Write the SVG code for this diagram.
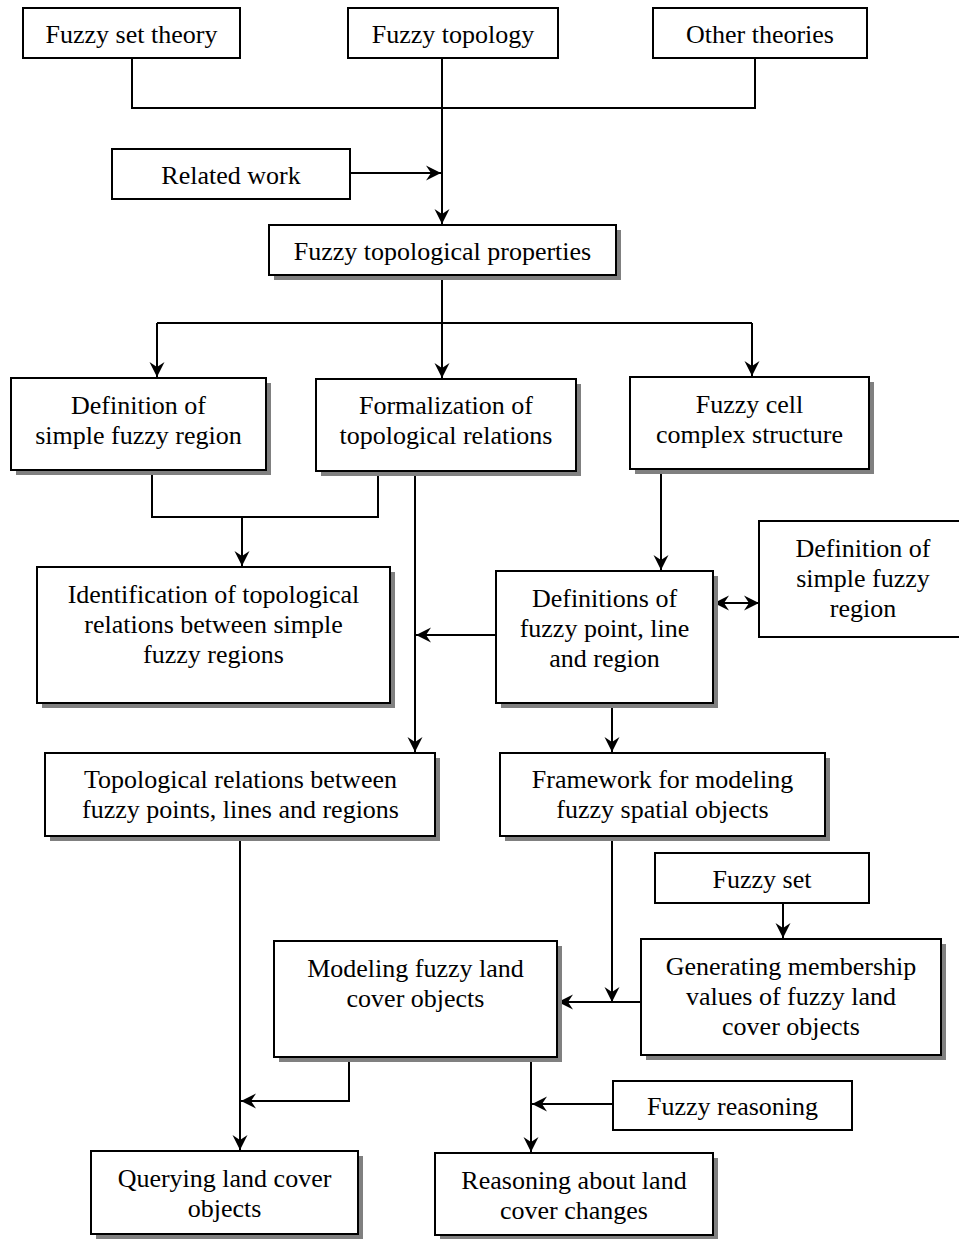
<svg xmlns="http://www.w3.org/2000/svg" width="959" height="1239" viewBox="0 0 959 1239">
  <style>
    .box { fill: #fff; stroke: #000; stroke-width: 2; }
    .shadow { fill: #808080; }
    .label { font-family: "Liberation Serif", "Times New Roman", serif; font-size: 26px; fill: #000; text-anchor: middle; }
    .wire { fill: none; stroke: #000; stroke-width: 2; }
  </style>
  <defs>
    <marker id="head" markerUnits="userSpaceOnUse" markerWidth="18" markerHeight="16" refX="16" refY="8" orient="auto-start-reverse">
      <path d="M16,8 L1,0.5 L6,8 L1,15.5 Z" fill="#000"/>
    </marker>
  </defs>

  <rect width="959" height="1239" fill="#fff"/>

  <!-- connectors -->
  <g id="connectors">
    <path class="wire" d="M132,58 V108 H755 V58"/>
    <path class="wire" d="M442,58 V224" marker-end="url(#head)"/>
    <path class="wire" d="M350,173 H441" marker-end="url(#head)"/>
    <path class="wire" d="M442,275 V323"/>
    <path class="wire" d="M157,323 H752"/>
    <path class="wire" d="M157,323 V377" marker-end="url(#head)"/>
    <path class="wire" d="M442,323 V378" marker-end="url(#head)"/>
    <path class="wire" d="M752,323 V376" marker-end="url(#head)"/>
    <path class="wire" d="M152,470 V517 H378 V471"/>
    <path class="wire" d="M242,517 V566" marker-end="url(#head)"/>
    <path class="wire" d="M415,471 V752" marker-end="url(#head)"/>
    <path class="wire" d="M496,635 H416" marker-end="url(#head)"/>
    <path class="wire" d="M661,469 V570" marker-end="url(#head)"/>
    <path class="wire" d="M714,603 H759" marker-start="url(#head)" marker-end="url(#head)"/>
    <path class="wire" d="M612,703 V752" marker-end="url(#head)"/>
    <path class="wire" d="M240,836 V1150" marker-end="url(#head)"/>
    <path class="wire" d="M783,903 V938" marker-end="url(#head)"/>
    <path class="wire" d="M612,836 V1002" marker-end="url(#head)"/>
    <path class="wire" d="M641,1002 H558" marker-end="url(#head)"/>
    <path class="wire" d="M349,1057 V1101 H241" marker-end="url(#head)"/>
    <path class="wire" d="M531,1057 V1152" marker-end="url(#head)"/>
    <path class="wire" d="M613,1104 H532" marker-end="url(#head)"/>
  </g>

  <!-- nodes -->
  <g id="fuzzy-set-theory">
    <rect class="box" x="23" y="8" width="217" height="50"/>
    <text class="label" x="131.5" y="43">Fuzzy set theory</text>
  </g>
  <g id="fuzzy-topology">
    <rect class="box" x="348" y="8" width="210" height="50"/>
    <text class="label" x="453" y="43">Fuzzy topology</text>
  </g>
  <g id="other-theories">
    <rect class="box" x="653" y="8" width="214" height="50"/>
    <text class="label" x="760" y="43">Other theories</text>
  </g>
  <g id="related-work">
    <rect class="box" x="112" y="149" width="238" height="50"/>
    <text class="label" x="231" y="184">Related work</text>
  </g>
  <g id="fuzzy-topological-properties">
    <rect class="shadow" x="274" y="230" width="347" height="50"/>
    <rect class="box" x="269" y="225" width="347" height="50"/>
    <text class="label" x="442.5" y="260">Fuzzy topological properties</text>
  </g>
  <g id="definition-simple-region">
    <rect class="shadow" x="16" y="383" width="255" height="92"/>
    <rect class="box" x="11" y="378" width="255" height="92"/>
    <text class="label" x="138.5" y="414">Definition of</text>
    <text class="label" x="138.5" y="444">simple fuzzy region</text>
  </g>
  <g id="formalization">
    <rect class="shadow" x="321" y="384" width="260" height="92"/>
    <rect class="box" x="316" y="379" width="260" height="92"/>
    <text class="label" x="446" y="414">Formalization of</text>
    <text class="label" x="446" y="444">topological relations</text>
  </g>
  <g id="fuzzy-cell-complex">
    <rect class="shadow" x="635" y="382" width="239" height="92"/>
    <rect class="box" x="630" y="377" width="239" height="92"/>
    <text class="label" x="749.5" y="413">Fuzzy cell</text>
    <text class="label" x="749.5" y="443">complex structure</text>
  </g>
  <g id="identification">
    <rect class="shadow" x="42" y="572" width="353" height="136"/>
    <rect class="box" x="37" y="567" width="353" height="136"/>
    <text class="label" x="213.5" y="603">Identification of topological</text>
    <text class="label" x="213.5" y="633">relations between simple</text>
    <text class="label" x="213.5" y="663">fuzzy regions</text>
  </g>
  <g id="definitions-point-line-region">
    <rect class="shadow" x="501" y="576" width="217" height="132"/>
    <rect class="box" x="496" y="571" width="217" height="132"/>
    <text class="label" x="604.5" y="607">Definitions of</text>
    <text class="label" x="604.5" y="637">fuzzy point, line</text>
    <text class="label" x="604.5" y="667">and region</text>
  </g>
  <g id="definition-simple-region-right">
    <rect class="box" x="759" y="521" width="210" height="116"/>
    <text class="label" x="863" y="557">Definition of</text>
    <text class="label" x="863" y="587">simple fuzzy</text>
    <text class="label" x="863" y="617">region</text>
  </g>
  <g id="topological-relations">
    <rect class="shadow" x="50" y="758" width="390" height="83"/>
    <rect class="box" x="45" y="753" width="390" height="83"/>
    <text class="label" x="240.5" y="788">Topological relations between</text>
    <text class="label" x="240.5" y="818">fuzzy points, lines and regions</text>
  </g>
  <g id="framework">
    <rect class="shadow" x="505" y="758" width="325" height="83"/>
    <rect class="box" x="500" y="753" width="325" height="83"/>
    <text class="label" x="662.5" y="788">Framework for modeling</text>
    <text class="label" x="662.5" y="818">fuzzy spatial objects</text>
  </g>
  <g id="fuzzy-set">
    <rect class="box" x="655" y="853" width="214" height="50"/>
    <text class="label" x="762" y="888">Fuzzy set</text>
  </g>
  <g id="generating-membership">
    <rect class="shadow" x="646" y="944" width="300" height="116"/>
    <rect class="box" x="641" y="939" width="300" height="116"/>
    <text class="label" x="791" y="975">Generating membership</text>
    <text class="label" x="791" y="1005">values of fuzzy land</text>
    <text class="label" x="791" y="1035">cover objects</text>
  </g>
  <g id="modeling-land-cover">
    <rect class="shadow" x="279" y="946" width="283" height="116"/>
    <rect class="box" x="274" y="941" width="283" height="116"/>
    <text class="label" x="415.5" y="977">Modeling fuzzy land</text>
    <text class="label" x="415.5" y="1007">cover objects</text>
  </g>
  <g id="fuzzy-reasoning">
    <rect class="box" x="613" y="1081" width="239" height="49"/>
    <text class="label" x="732.5" y="1115">Fuzzy reasoning</text>
  </g>
  <g id="querying">
    <rect class="shadow" x="96" y="1156" width="267" height="83"/>
    <rect class="box" x="91" y="1151" width="267" height="83"/>
    <text class="label" x="224.5" y="1187">Querying land cover</text>
    <text class="label" x="224.5" y="1217">objects</text>
  </g>
  <g id="reasoning-changes">
    <rect class="shadow" x="440" y="1158" width="278" height="82"/>
    <rect class="box" x="435" y="1153" width="278" height="82"/>
    <text class="label" x="574" y="1189">Reasoning about land</text>
    <text class="label" x="574" y="1219">cover changes</text>
  </g>
</svg>
